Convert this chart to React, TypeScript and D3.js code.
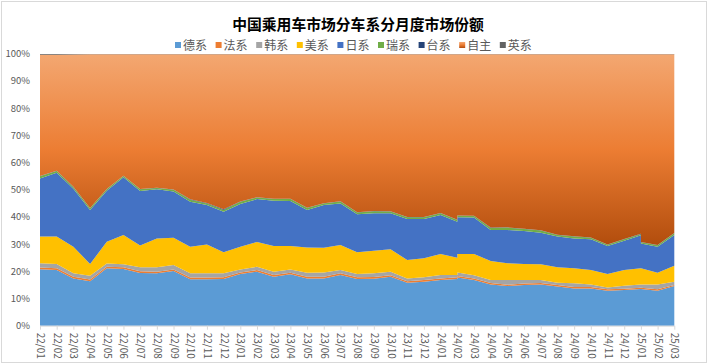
import React, { useRef, useEffect } from 'react';
import * as d3 from 'd3';

// axis categories (one per month)
const tickLabels = [
  '22/01', '22/02', '22/03', '22/04', '22/05', '22/06', '22/07', '22/08', '22/09', '22/10', '22/11', '22/12',
  '23/01', '23/02', '23/03', '23/04', '23/05', '23/06', '23/07', '23/08', '23/09', '23/10', '23/11', '23/12',
  '24/01', '24/02', '24/03', '24/04', '24/05', '24/06', '24/07', '24/08', '24/09', '24/10', '24/11', '24/12',
  '25/01', '25/02', '25/03',
];

// data rows; 24/02 and 25/01 each have two rows in the sheet
const periods = [
  '22/01', '22/02', '22/03', '22/04', '22/05', '22/06', '22/07', '22/08', '22/09', '22/10', '22/11', '22/12',
  '23/01', '23/02', '23/03', '23/04', '23/05', '23/06', '23/07', '23/08', '23/09', '23/10', '23/11', '23/12',
  '24/01', '24/02', '24/02', '24/03', '24/04', '24/05', '24/06', '24/07', '24/08', '24/09', '24/10', '24/11', '24/12',
  '25/01', '25/01', '25/02', '25/03',
];

const seriesNames = ['德系', '法系', '韩系', '美系', '日系', '瑞系', '台系', '自主', '英系'];

// shares in %
const deXi = [20.8, 20.5, 17.4, 16.4, 21.1, 20.9, 19.4, 19.3, 20.1, 17.1, 17.1, 17.2, 19.0, 19.9, 18.0, 18.9, 17.4, 17.4, 18.7, 17.2, 17.3, 18.0, 15.8, 16.2, 16.8, 17.2, 17.7, 16.8, 15.2, 14.6, 15.0, 15.2, 14.4, 13.7, 13.7, 12.9, 13.1, 13.5, 13.5, 12.9, 14.6];
const faXi = [0.6, 0.6, 0.6, 0.6, 0.6, 0.6, 0.6, 0.6, 0.6, 0.6, 0.6, 0.6, 0.6, 0.6, 0.7, 0.6, 0.6, 0.6, 0.6, 0.6, 0.6, 0.6, 0.6, 0.6, 0.6, 0.6, 0.6, 0.6, 0.5, 0.5, 0.5, 0.5, 0.6, 0.5, 0.5, 0.5, 0.5, 0.5, 0.5, 0.5, 0.4];
const hanXi = [1.6, 1.6, 1.3, 1.4, 1.2, 1.1, 1.5, 1.6, 1.6, 1.6, 1.6, 1.5, 1.1, 1.2, 1.2, 1.2, 1.5, 1.6, 1.2, 1.2, 1.4, 1.3, 1.0, 1.0, 1.3, 0.9, 1.3, 1.2, 1.1, 1.7, 1.3, 1.1, 0.8, 1.4, 1.0, 0.7, 1.1, 1.2, 1.2, 1.8, 1.2];
const meiXi = [9.8, 10.1, 9.8, 4.3, 8.0, 10.8, 8.0, 10.6, 10.1, 9.8, 10.6, 7.7, 8.4, 9.1, 9.4, 8.6, 9.3, 9.1, 9.2, 8.0, 8.3, 8.2, 6.8, 7.0, 7.7, 6.3, 6.8, 7.8, 7.0, 6.2, 5.9, 5.8, 5.7, 5.5, 5.3, 4.9, 5.8, 5.9, 5.9, 4.3, 5.9];
const riXi = [21.4, 23.5, 21.3, 19.9, 18.8, 21.2, 20.1, 18.1, 17.0, 16.5, 14.5, 14.9, 15.7, 15.8, 16.7, 16.6, 13.8, 15.7, 15.3, 14.0, 13.8, 13.3, 15.1, 14.5, 14.3, 13.3, 13.5, 13.4, 11.4, 12.2, 12.2, 11.6, 11.3, 11.0, 11.3, 10.3, 10.8, 12.2, 9.2, 9.6, 11.3];
const ruiXi = [0.8, 0.6, 0.6, 0.6, 0.5, 0.5, 0.6, 0.5, 0.6, 0.8, 0.6, 0.7, 0.8, 0.6, 0.6, 0.7, 0.7, 0.6, 0.7, 0.7, 0.7, 0.6, 0.6, 0.6, 0.7, 0.6, 0.6, 0.6, 0.8, 0.9, 0.7, 0.8, 0.6, 0.7, 0.6, 0.5, 0.5, 0.4, 0.4, 0.5, 0.6];
const taiXi = [0.1, 0.1, 0.1, 0.1, 0.1, 0.1, 0.1, 0.1, 0.1, 0.1, 0.2, 0.3, 0.1, 0.1, 0.1, 0.1, 0.1, 0.1, 0.1, 0.1, 0.1, 0.1, 0.1, 0.1, 0.1, 0.1, 0.1, 0.1, 0.1, 0.1, 0.1, 0.1, 0.1, 0.1, 0.1, 0.1, 0.1, 0.1, 0.1, 0.1, 0.1];
const ziZhu = [44.6, 42.7, 48.7, 56.6, 49.6, 44.7, 49.6, 49.1, 49.8, 53.4, 54.7, 57.0, 54.2, 52.6, 53.2, 53.2, 56.5, 54.8, 54.1, 58.1, 57.7, 57.8, 59.9, 59.9, 58.4, 60.9, 59.3, 59.4, 63.8, 63.7, 64.2, 64.8, 66.4, 67.0, 67.4, 70.0, 68.0, 66.1, 69.1, 70.2, 65.8];
const yingXi = [0.3, 0.3, 0.2, 0.1, 0.1, 0.1, 0.1, 0.1, 0.1, 0.1, 0.1, 0.1, 0.1, 0.1, 0.1, 0.1, 0.1, 0.1, 0.1, 0.1, 0.1, 0.1, 0.1, 0.1, 0.1, 0.1, 0.1, 0.1, 0.1, 0.1, 0.1, 0.1, 0.1, 0.1, 0.1, 0.1, 0.1, 0.1, 0.1, 0.1, 0.1];

const seriesValues = [deXi, faXi, hanXi, meiXi, riXi, ruiXi, taiXi, ziZhu, yingXi];
const colors = ['#5b9bd5', '#ed7d31', '#a5a5a5', '#ffc000', '#4472c4', '#70ad47', '#264478', 'url(#zizhuFill)', '#636363'];

const FONT = "'Noto Sans CJK SC', 'Microsoft YaHei', sans-serif";

function ShareChart({ width = 712, height = 364 }) {
  const svgRef = useRef(null);

  useEffect(() => {
    document.body.style.margin = '0';
    const svg = d3.select(svgRef.current);
    svg.selectAll('*').remove();

    const margin = { top: 54, right: 37.7, bottom: 38.3, left: 40 };

    // chart area border
    svg.append('rect')
      .attr('x', 1.5).attr('y', 1.5)
      .attr('width', width - 7).attr('height', height - 3)
      .attr('fill', '#fff')
      .attr('stroke', '#d9d9d9');

    const defs = svg.append('defs');
    const grad = defs.append('linearGradient')
      .attr('id', 'zizhuFill')
      .attr('x1', 0).attr('y1', 0).attr('x2', 0).attr('y2', 1);
    grad.append('stop').attr('offset', '0%').attr('stop-color', '#f3a771');
    grad.append('stop').attr('offset', '50%').attr('stop-color', '#ec7d33');
    grad.append('stop').attr('offset', '100%').attr('stop-color', '#b24d0d');

    // title
    svg.append('text')
      .attr('x', 358).attr('y', 30)
      .attr('text-anchor', 'middle')
      .attr('font-family', FONT)
      .attr('font-size', 14.8)
      .attr('font-weight', 'bold')
      .attr('fill', '#000')
      .text('中国乘用车市场分车系分月度市场份额');

    // legend
    const legend = svg.append('g').attr('font-family', FONT).attr('font-size', 12).attr('fill', '#595959');
    seriesNames.forEach((name, i) => {
      const lx = 175 + i * 40.6;
      legend.append('rect')
        .attr('x', lx).attr('y', 42)
        .attr('width', 6).attr('height', 6)
        .attr('fill', colors[i]);
      legend.append('text')
        .attr('x', lx + 8).attr('y', 49.5)
        .text(name);
    });

    const x = d3.scalePoint()
      .domain(tickLabels)
      .range([margin.left, width - margin.right]);

    const y = d3.scaleLinear()
      .domain([0, 1])
      .range([height - margin.bottom, margin.top]);

    const rows = periods.map((p, i) => {
      const row = { period: p };
      seriesNames.forEach((s, k) => { row[s] = seriesValues[k][i]; });
      return row;
    });

    const stacked = d3.stack()
      .keys(seriesNames)
      .offset(d3.stackOffsetExpand)(rows);

    const area = d3.area()
      .x(d => x(d.data.period))
      .y0(d => y(d[0]))
      .y1(d => y(d[1]));

    svg.append('g')
      .selectAll('path')
      .data(stacked)
      .enter()
      .append('path')
      .attr('d', area)
      .attr('fill', (d, i) => colors[i]);

    // y labels
    const yTicks = d3.range(0, 1.0001, 0.1);
    svg.append('g')
      .selectAll('text')
      .data(yTicks)
      .enter()
      .append('text')
      .attr('x', 30)
      .attr('y', d => y(d))
      .attr('dy', '0.35em')
      .attr('text-anchor', 'end')
      .attr('font-family', FONT)
      .attr('font-size', 9.5)
      .attr('fill', '#595959')
      .text(d => d3.format('.0%')(d));

    // x axis
    const xAxis = svg.append('g')
      .attr('transform', `translate(0,${height - margin.bottom})`)
      .call(d3.axisBottom(x).tickSize(4).tickSizeOuter(0));
    xAxis.select('.domain').attr('stroke', '#d9d9d9');
    xAxis.selectAll('line').attr('stroke', '#d9d9d9');
    xAxis.selectAll('text')
      .attr('font-family', FONT)
      .attr('font-size', 10)
      .attr('fill', '#595959')
      .attr('text-anchor', 'start')
      .attr('transform', 'rotate(90)')
      .attr('x', 7)
      .attr('y', 0)
      .attr('dy', '0.35em');
  }, [width, height]);

  return <svg ref={svgRef} width={width} height={height} style={{ display: 'block' }} />;
}

export default function App() {
  return <ShareChart />;
}
